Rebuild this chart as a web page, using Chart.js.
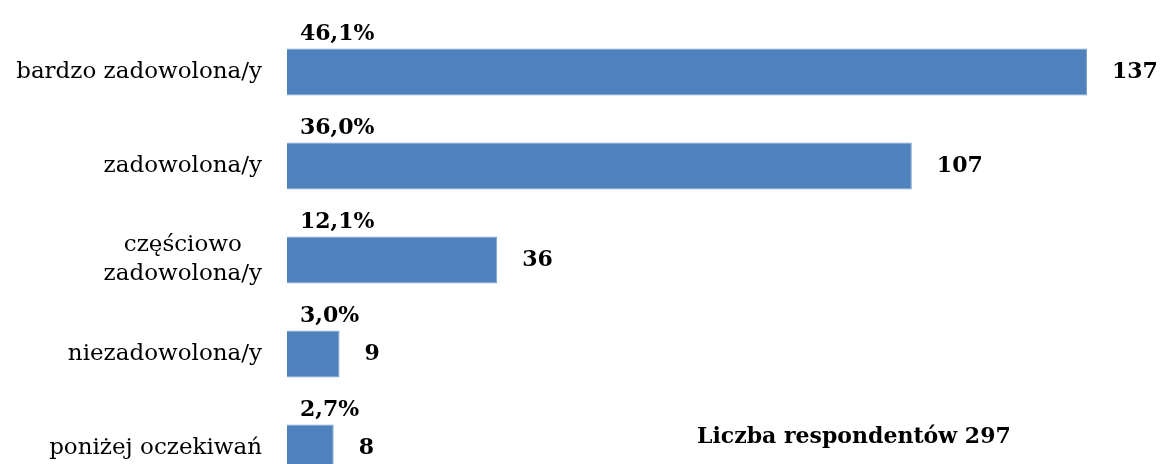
<!DOCTYPE html>
<html>
<head>
<meta charset="utf-8">
<script src="https://cdn.jsdelivr.net/npm/chart.js@4"></script>
<style>
  html, body { margin: 0; padding: 0; background: #fff; overflow: hidden; }
  #wrap { width: 1160px; height: 500px; position: relative; }
</style>
</head>
<body>
<div id="wrap"><canvas id="barChart"></canvas></div>
<script>
// categories in chart order (top to bottom)
const labels = [
    "bardzo zadowolona/y",
    "zadowolona/y",
    ["częściowo", "zadowolona/y"],
    "niezadowolona/y",
    "poniżej oczekiwań"
];
const counts = [137, 107, 36, 9, 8];
const percents = ["46,1%", "36,0%", "12,1%", "3,0%", "2,7%"];
const totalText = "Liczba respondentów 297";

const FONT = "'DejaVu Serif', serif";

// ===== LABELS =====
const labelPlugin = {
    id: "labels",
    afterDatasetsDraw(chart) {
        const ctx = chart.ctx;
        const area = chart.chartArea;
        const yScale = chart.scales.y;
        const meta = chart.getDatasetMeta(0);
        ctx.save();
        ctx.fillStyle = "#000";
        ctx.textBaseline = "middle";

        // category labels: block right-aligned at the axis, lines centred
        ctx.font = "23px " + FONT;
        labels.forEach((lab, i) => {
            const y = yScale.getPixelForTick(i);
            const lines = Array.isArray(lab) ? lab : [lab];
            const w = Math.max(...lines.map(l => ctx.measureText(l).width));
            const right = area.left - 25;
            const lh = 29;
            lines.forEach((l, j) => {
                const ly = y + (j - (lines.length - 1) / 2) * lh;
                ctx.textAlign = "center";
                ctx.fillText(l, right - w / 2, ly);
            });
        });

        ctx.font = "bold 22px " + FONT;
        meta.data.forEach((bar, i) => {
            const h = bar.height;
            ctx.textAlign = "left";
            ctx.fillText(percents[i], area.left + 13, bar.y - h / 2 - 14);
            ctx.fillText(String(counts[i]), bar.x + 25, bar.y);
        });

        ctx.fillText(totalText, 697, 437);
        ctx.restore();
    }
};

new Chart(document.getElementById("barChart"), {
    type: "bar",
    data: {
        labels: labels,
        datasets: [{
            data: counts,
            backgroundColor: "#4F81BD",
            borderColor: "#7FA3D3",
            borderWidth: 1,
            categoryPercentage: 1,
            barPercentage: 0.5
        }]
    },
    options: {
        indexAxis: "y",
        responsive: true,
        maintainAspectRatio: false,
        animation: false,
        layout: { padding: { left: 287, top: 25, right: 73, bottom: 5 } },
        scales: {
            x: { display: false, min: 0, max: 137 },
            y: { display: false }
        },
        plugins: { legend: { display: false }, tooltip: { enabled: false } }
    },
    plugins: [labelPlugin]
});
</script>
</body>
</html>
